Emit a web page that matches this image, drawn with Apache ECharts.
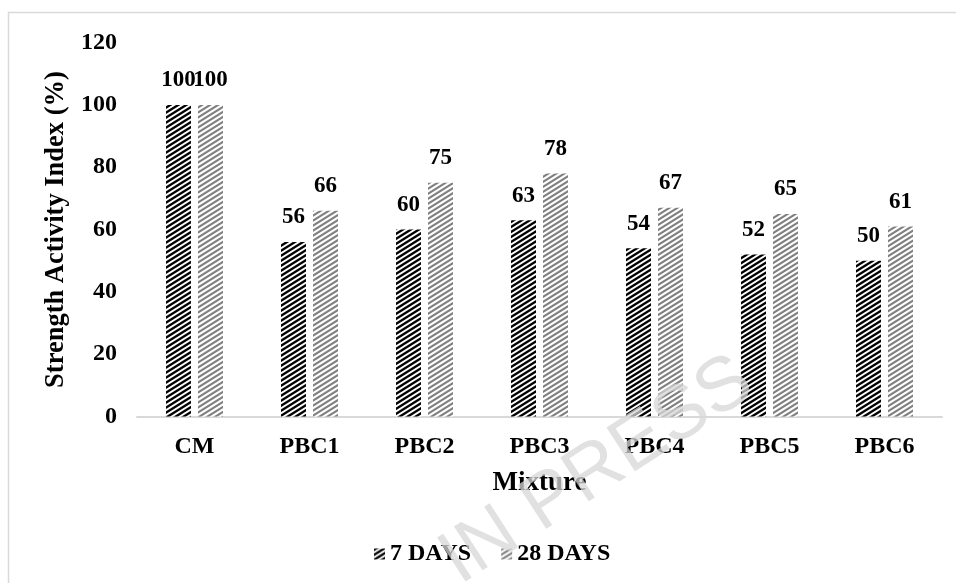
<!DOCTYPE html>
<html><head><meta charset="utf-8">
<script src="https://cdn.jsdelivr.net/npm/echarts@6/dist/echarts.min.js"></script>
<style>html,body{margin:0;padding:0;background:#fff}#c{width:956px;height:583px}</style>
</head><body><div id="c"></div>
<script>
const categories = ['CM', 'PBC1', 'PBC2', 'PBC3', 'PBC4', 'PBC5', 'PBC6'];
const days7 = [100, 56, 60, 63, 54, 52, 50];
const days28 = [100, 66, 75, 78, 67, 65, 61];
const seriesNames = ['7 DAYS', '28 DAYS'];
const yMin = 0, yMax = 120, yInterval = 20;

function hatch(rgb, frac) {
  const W = 8, H = 5, S = 4;
  const c = document.createElement('canvas');
  c.width = W; c.height = H;
  const ctx = c.getContext('2d');
  const img = ctx.createImageData(W, H);
  for (let y = 0; y < H; y++) {
    for (let x = 0; x < W; x++) {
      let n = 0;
      for (let i = 0; i < S; i++) for (let j = 0; j < S; j++) {
        const sx = x + (i + 0.5) / S, sy = y + (j + 0.5) / S;
        const v = (sx / W + sy / H) % 1;
        if (v < frac) n++;
      }
      const a = n / (S * S);
      const k = (y * W + x) * 4;
      img.data[k] = Math.round(255 * (1 - a) + rgb[0] * a);
      img.data[k + 1] = Math.round(255 * (1 - a) + rgb[1] * a);
      img.data[k + 2] = Math.round(255 * (1 - a) + rgb[2] * a);
      img.data[k + 3] = 255;
    }
  }
  ctx.putImageData(img, 0, 0);
  return { image: c, repeat: 'repeat' };
}

const blackHatch = hatch([0, 0, 0], 0.55);
const grayHatch = hatch([128, 128, 128], 0.5);
const serif = '"Liberation Serif", "Times New Roman", serif';

const chart = echarts.init(document.getElementById('c'), null, { renderer: 'canvas' });
const labelStyle = {
  show: true, position: 'top', distance: 13,
  color: '#000', fontFamily: serif, fontWeight: 'bold', fontSize: 23
};
chart.setOption({
  backgroundColor: '#fff',
  animation: false,
  grid: { left: 137, right: 14, top: 42.6, bottom: 166.5 },
  legend: {
    data: seriesNames,
    left: 369, top: 537,
    icon: 'rect', itemWidth: 11, itemHeight: 11, itemGap: 30,
    textStyle: { color: '#000', fontFamily: serif, fontWeight: 'bold', fontSize: 24, padding: [0, 0, 0, 0] }
  },
  xAxis: {
    type: 'category', data: categories,
    name: 'Mixture', nameLocation: 'middle', nameGap: 53,
    nameTextStyle: { color: '#000', fontFamily: serif, fontWeight: 'bold', fontSize: 27 },
    axisLine: { lineStyle: { color: '#d9d9d9', width: 2 } },
    axisTick: { show: false },
    axisLabel: { color: '#000', fontFamily: serif, fontWeight: 'bold', fontSize: 24, margin: 18 }
  },
  yAxis: {
    type: 'value', min: yMin, max: yMax, interval: yInterval,
    name: 'Strength Activity Index (%)', nameLocation: 'middle', nameGap: 61, nameRotate: 90,
    nameTextStyle: { color: '#000', fontFamily: serif, fontWeight: 'bold', fontSize: 26.5 },
    axisLine: { show: false }, axisTick: { show: false }, splitLine: { show: false },
    axisLabel: { color: '#000', fontFamily: serif, fontWeight: 'bold', fontSize: 24, margin: 20 }
  },
  series: [
    { name: seriesNames[0], type: 'bar', data: days7, barWidth: 25, barGap: '28%',
      itemStyle: { color: blackHatch }, label: labelStyle },
    { name: seriesNames[1], type: 'bar', data: days28, barWidth: 25,
      itemStyle: { color: grayHatch }, label: labelStyle }
  ],
  graphic: [
    { type: 'rect', silent: true, z: -10,
      shape: { x: 8.5, y: 12.5, width: 1000, height: 1000 },
      style: { fill: 'none', stroke: '#d9d9d9', lineWidth: 1.5 } },
    { type: 'text', silent: true, z: 100, x: 597, y: 471, rotation: 33 * Math.PI / 180,
      style: { text: 'IN PRESS', fontSize: 76, fontFamily: '"Liberation Sans", Arial, sans-serif',
        fill: 'rgba(215,215,215,0.75)', textAlign: 'center', textVerticalAlign: 'middle' } }
  ]
});
</script>
</body></html>
